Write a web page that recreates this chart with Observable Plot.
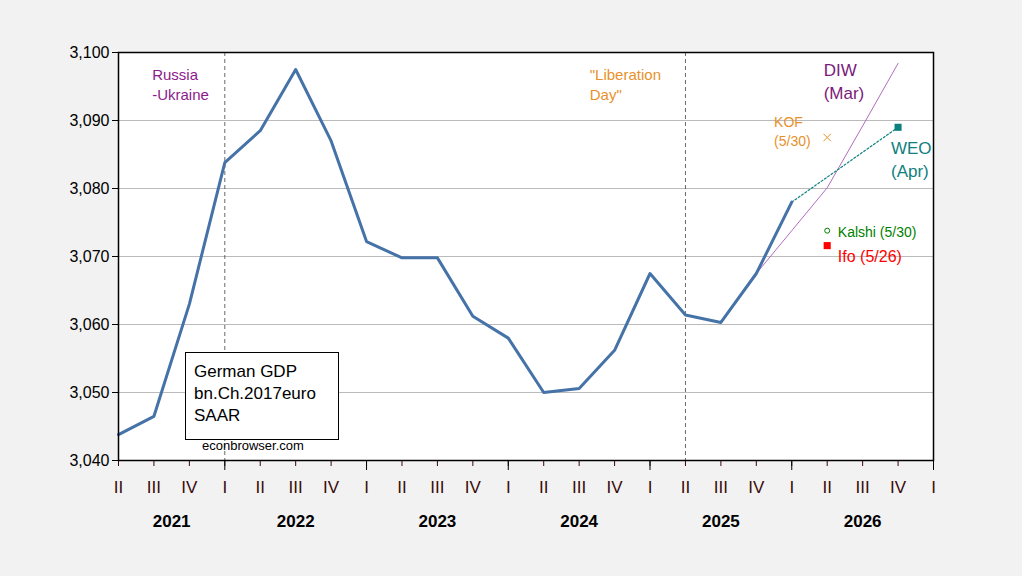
<!DOCTYPE html>
<html><head>
<script src="https://cdn.jsdelivr.net/npm/d3@7"></script>
<script src="https://cdn.jsdelivr.net/npm/@observablehq/plot@0.6"></script>
<style>
body{margin:0;background:#f2f2f2;font-family:"Liberation Sans",Arial,sans-serif}
#wrap{position:relative;width:1022px;height:576px}
#box{position:absolute;left:185px;top:352px;width:154px;height:88px;border:1px solid #000;background:#fff;font-size:17px;line-height:22px;padding:8px 0 0 8px;box-sizing:border-box}
#src{position:absolute;left:202px;top:438px;font-size:13px}
</style>
</head><body>
<div id="wrap"><div id="chart"></div>
<div id="box">German GDP<br>bn.Ch.2017euro<br>SAAR</div>
<div id="src">econbrowser.com</div></div>
<script>
// quarters from 2021Q2, index 0
const quarters = ['II','III','IV','I','II','III','IV','I','II','III','IV','I','II','III','IV','I','II','III','IV','I','II','III','IV','I'];
const years = ['2021', '2022', '2023', '2024', '2025', '2026'];
const yearPos = [1.5, 5, 9, 13, 17, 21];
const gdp = [3043.8, 3046.5, 3063.0, 3083.8, 3088.5, 3097.5, 3087.0, 3072.2, 3069.8, 3069.8, 3061.2, 3058.0, 3050.0, 3050.6, 3056.2, 3067.5, 3061.4, 3060.3, 3067.5, 3078.0];
const diwQ = [18, 19, 20, 21, 22];
const diw = [3067.5, 3073.8, 3080.1, 3089.2, 3098.4];
const weoQ = [19, 22];
const weo = [3078.0, 3089.0];
const kof = 3087.5, kalshi = 3073.8, ifo = 3071.6;
const events = [3, 16];

const gdpData = gdp.map((v, i) => ({q: i, v}));
const diwData = diw.map((v, i) => ({q: diwQ[i], v}));
const weoData = weo.map((v, i) => ({q: weoQ[i], v}));
const qIdx = quarters.map((l, i) => i);
const majors = qIdx.filter(i => quarters[i] === 'I');

const lab = (q, v, t, color, size, anchor = 'start') =>
  Plot.text([{q, v}], {x: 'q', y: 'v', text: () => t, fill: color, fontSize: size, textAnchor: anchor, lineHeight: 1.35});

const chart = Plot.plot({
  width: 1022, height: 576,
  marginLeft: 118, marginRight: 89, marginTop: 52, marginBottom: 116,
  style: {fontFamily: '"Liberation Sans", Arial, sans-serif', background: 'transparent', overflow: 'visible'},
  x: {domain: [0, 23]},
  y: {domain: [3040, 3100]},
  marks: [
    Plot.frame({fill: 'white'}),
    Plot.gridY(d3.range(3050, 3100, 10), {stroke: '#bbb', strokeOpacity: 1}),
    Plot.axisY({ticks: d3.range(3040, 3101, 10), tickFormat: d3.format(','), fontSize: 16, tickSize: 6, label: null, stroke: 'black'}),
    Plot.axisX({ticks: qIdx, tickFormat: i => quarters[i], tickSize: 6, tickPadding: 14, fontSize: 17, label: null, color: '#3a0a0a'}),
    Plot.axisX({ticks: majors, tickFormat: () => '', tickSize: 10, label: null}),
    Plot.axisX({ticks: yearPos, tickFormat: (d, i) => years[yearPos.indexOf(d)], tickSize: 0, tickPadding: 54, fontSize: 17, fontWeight: 'bold', label: null}),
    Plot.ruleX(events, {stroke: '#444', strokeDasharray: '4,3', strokeWidth: 0.8}),
    Plot.line(diwData, {x: 'q', y: 'v', stroke: '#b06cc0', strokeWidth: 1}),
    Plot.line(weoData, {x: 'q', y: 'v', stroke: '#0f8080', strokeDasharray: '2,2', strokeWidth: 1.2}),
    Plot.line(gdpData, {x: 'q', y: 'v', stroke: '#4572a7', strokeWidth: 3}),
    Plot.dot([weoData[1]], {x: 'q', y: 'v', symbol: 'square', fill: '#0f8080', r: 4}),
    Plot.dot([{q: 20, v: kof}], {x: 'q', y: 'v', symbol: 'times', stroke: '#e8912c', r: 3.5, strokeWidth: 1}),
    Plot.dot([{q: 20, v: kalshi}], {x: 'q', y: 'v', stroke: 'green', r: 2.5, strokeWidth: 1}),
    Plot.dot([{q: 20, v: ifo}], {x: 'q', y: 'v', symbol: 'square', fill: 'red', r: 4}),
    Plot.frame({stroke: 'black', strokeWidth: 1.5}),
    lab(0.95, 3095.4, 'Russia\n-Ukraine', '#8b1a8b', 15),
    lab(13.3, 3095.4, '"Liberation\nDay"', '#e8912c', 15),
    lab(19.9, 3096.0, 'DIW\n(Mar)', '#7a1a7a', 17),
    lab(18.5, 3088.6, 'KOF\n(5/30)', '#e8912c', 14),
    lab(21.8, 3084.5, 'WEO\n(Apr)', '#0f8080', 17),
    lab(20.3, 3073.7, 'Kalshi (5/30)', 'green', 14),
    lab(20.3, 3070.2, 'Ifo (5/26)', 'red', 16)
  ]
});
d3.select('#chart').append(() => chart);
</script>
</body></html>
